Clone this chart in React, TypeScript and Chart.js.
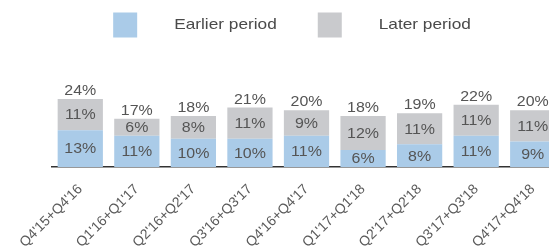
import React, { useEffect, useRef } from "react";
import { Chart, registerables } from "chart.js";

Chart.register(...registerables);

const categories = [
  "Q4'15+Q4'16",
  "Q1'16+Q1'17",
  "Q2'16+Q2'17",
  "Q3'16+Q3'17",
  "Q4'16+Q4'17",
  "Q1'17+Q1'18",
  "Q2'17+Q2'18",
  "Q3'17+Q3'18",
  "Q4'17+Q4'18",
];
const earlierPeriod = [13, 11, 10, 10, 11, 6, 8, 11, 9];
const laterPeriod = [11, 6, 8, 11, 9, 12, 11, 11, 11];
const totals = [24, 17, 18, 21, 20, 18, 19, 22, 20];
const seriesNames = ["Earlier period", "Later period"];

const BLUE = "#aacbe8";
const GRAY = "#c9cacd";
const FONT = "'Liberation Sans', Arial, sans-serif";
const STRETCH = 1.14;

function stretchedText(ctx: CanvasRenderingContext2D, text: string, x: number, y: number, sx: number) {
  ctx.save();
  ctx.translate(x, y);
  ctx.scale(sx, 1);
  ctx.fillText(text, 0, 0);
  ctx.restore();
}

const labelsPlugin = {
  id: "customLabels",
  afterDatasetsDraw(chart: any) {
    const ctx: CanvasRenderingContext2D = chart.ctx;
    ctx.save();
    ctx.font = `14px ${FONT}`;
    ctx.textAlign = "center";
    ctx.textBaseline = "middle";
    ctx.fillStyle = "#555";
    chart.data.datasets.forEach((ds: any, di: number) => {
      const meta = chart.getDatasetMeta(di);
      meta.data.forEach((el: any, i: number) => {
        const y = (el.y + el.base) / 2 + 1;
        stretchedText(ctx, ds.data[i] + "%", el.x, y, STRETCH);
      });
    });
    const topMeta = chart.getDatasetMeta(chart.data.datasets.length - 1);
    ctx.textBaseline = "alphabetic";
    ctx.fillStyle = "#555";
    topMeta.data.forEach((el: any, i: number) => {
      stretchedText(ctx, totals[i] + "%", el.x, el.y - 4, STRETCH);
    });
    ctx.restore();
  },
};

const legendPlugin = {
  id: "customLegend",
  afterDraw(chart: any) {
    const ctx: CanvasRenderingContext2D = chart.ctx;
    ctx.save();
    ctx.font = `15px ${FONT}`;
    ctx.textBaseline = "middle";
    ctx.textAlign = "left";
    const sx = 1.15;
    const box = 24;
    const gap = 37;
    const spacing = 41;
    const items = chart.data.datasets.map((ds: any) => ({
      text: ds.label,
      color: ds.backgroundColor,
      w: ctx.measureText(ds.label).width * sx,
    }));
    let total = 0;
    items.forEach((it: any, i: number) => {
      total += box + gap + it.w + (i < items.length - 1 ? spacing : 0);
    });
    let x = 292 - total / 2;
    const cy = 25;
    items.forEach((it: any) => {
      ctx.fillStyle = it.color;
      ctx.fillRect(x, cy - 12.5, box, 25);
      x += box + gap;
      ctx.fillStyle = "#4a4a4a";
      stretchedText(ctx, it.text, x, cy, sx);
      x += it.w + spacing;
    });
    ctx.restore();
  },
};

export default function App() {
  const ref = useRef<HTMLCanvasElement | null>(null);
  useEffect(() => {
    if (!ref.current) return;
    const chart = new Chart(ref.current, {
      type: "bar",
      data: {
        labels: categories,
        datasets: [
          {
            label: seriesNames[0],
            data: earlierPeriod,
            backgroundColor: BLUE,
            barPercentage: 0.8,
            categoryPercentage: 1,
          },
          {
            label: seriesNames[1],
            data: laterPeriod,
            backgroundColor: GRAY,
            barPercentage: 0.8,
            categoryPercentage: 1,
          },
        ],
      },
      options: {
        responsive: false,
        animation: false,
        layout: { padding: { top: 82, left: 52, right: 1, bottom: 0 } },
        plugins: {
          legend: { display: false },
          tooltip: { enabled: false },
        },
        scales: {
          x: {
            stacked: true,
            grid: { display: false },
            border: { display: true, color: "#333", width: 1.5 },
            ticks: {
              color: "#5a5a5a",
              font: { size: 14, family: FONT },
              minRotation: 45,
              maxRotation: 45,
              autoSkip: false,
              padding: 6,
            },
            afterFit: (scale: any) => {
              scale.height = 80;
            },
          },
          y: {
            stacked: true,
            display: false,
            min: 0,
            max: 30,
          },
        },
      },
      plugins: [labelsPlugin, legendPlugin],
    });
    return () => chart.destroy();
  }, []);
  return (
    <div style={{ position: "fixed", top: 0, left: 0, width: 562, height: 247, overflow: "hidden", background: "#fff" }}>
      <canvas ref={ref} width={562} height={247} />
    </div>
  );
}
